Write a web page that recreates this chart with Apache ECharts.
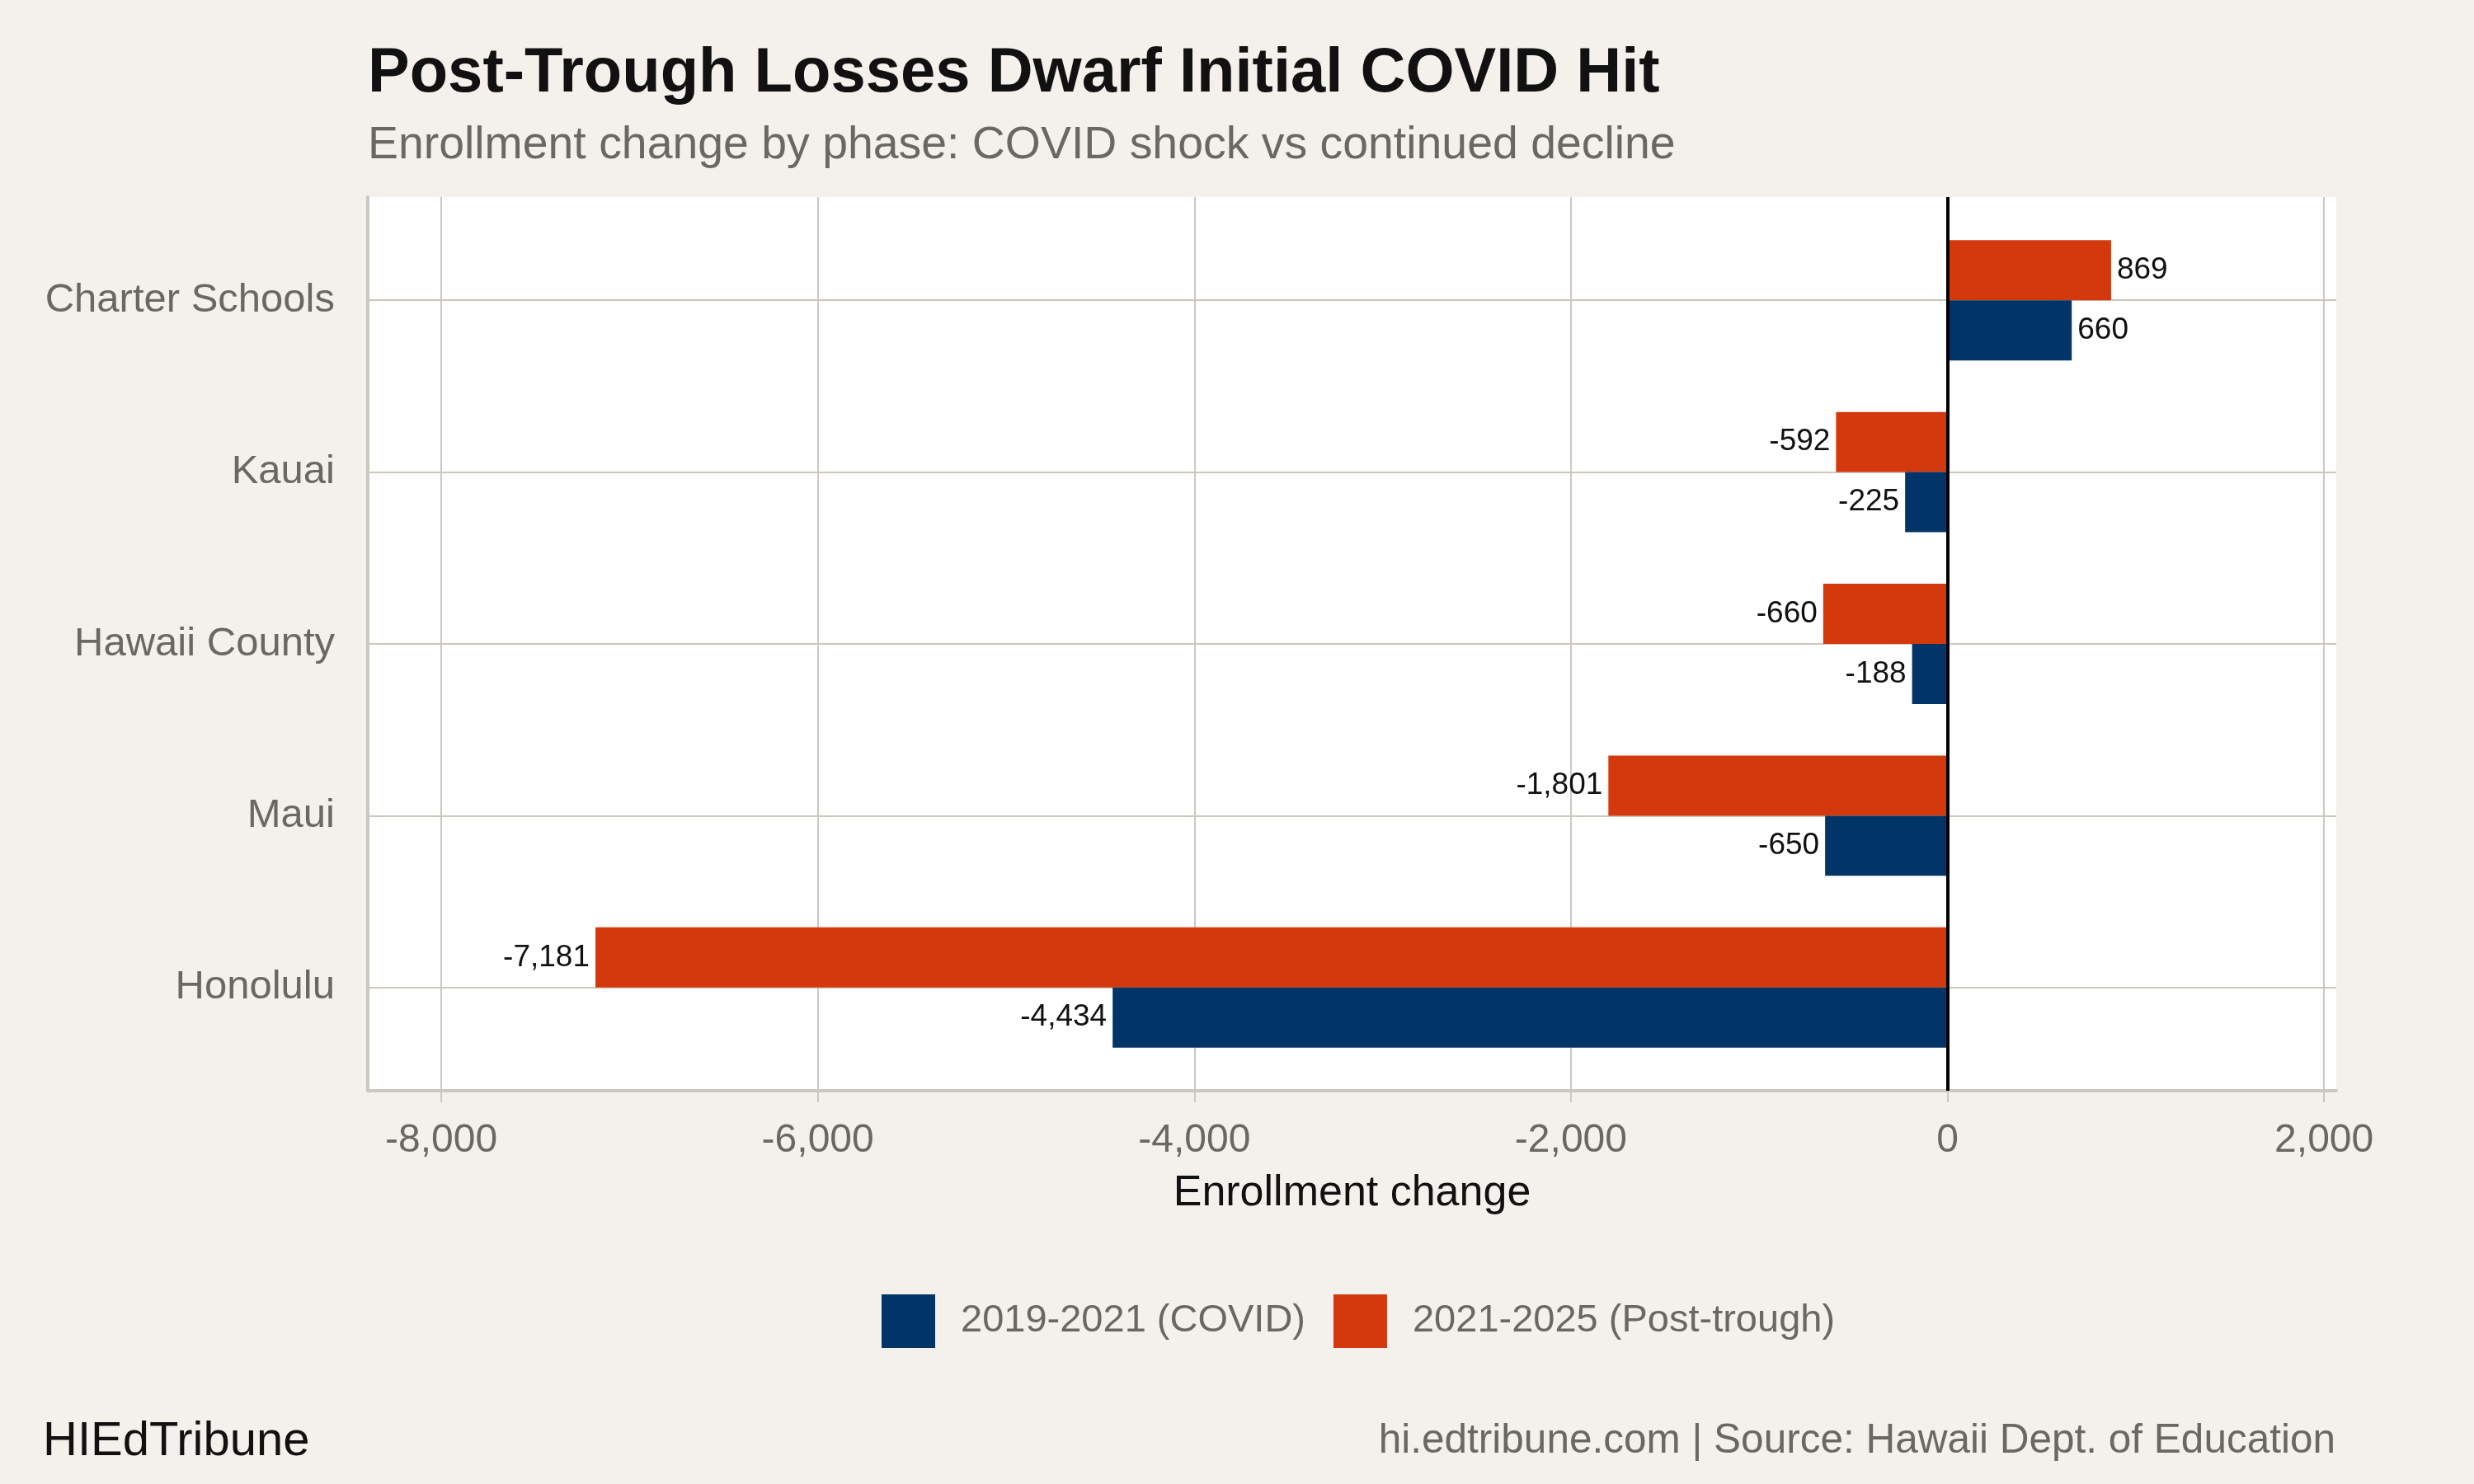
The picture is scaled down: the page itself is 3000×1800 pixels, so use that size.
<!DOCTYPE html>
<html>
<head>
    <meta charset="UTF-8"/>
    <script type="text/javascript" src="https://cdn.jsdelivr.net/npm/echarts@6/dist/echarts.min.js"></script>
    <style>
        html, body { margin: 0; padding: 0; background: #f4f1ec; }
        #main { width: 3000px; height: 1800px; }
    </style>
</head>
<body>
<div id="main"></div>
<script type="text/javascript">
    // categories bottom -> top
    var regions = ['Honolulu', 'Maui', 'Hawaii County', 'Kauai', 'Charter Schools'];
    var covidChange = [-4434, -650, -188, -225, 660];      // 2019-2021
    var postTrough = [-7181, -1801, -660, -592, 869];      // 2021-2025
    var seriesNames = ['2019-2021 (COVID)', '2021-2025 (Post-trough)'];
    var xTicks = [-8000, -6000, -4000, -2000, 0, 2000];

    var FONT = 'Liberation Sans, Arial, Helvetica, sans-serif';
    var GRAY = '#6b6862';
    var LINE = '#cdc8bf';
    var xMin = -8390, xMax = 2065;

    function fmt(v) { return v.toLocaleString('en-US'); }

    // label on the outer end of each bar
    function barData(values) {
        return values.map(function (v) {
            return { value: v, label: { position: v < 0 ? 'left' : 'right' } };
        });
    }

    var barLabel = { show: true, distance: 7, fontFamily: FONT, fontSize: 37, color: '#111111',
                     formatter: function (p) { return fmt(p.value); } };

    var myChart = echarts.init(document.getElementById('main'));

    var option = {
        backgroundColor: '#f4f1ec',
        textStyle: { fontFamily: FONT },
        animation: false,
        title: [
            { text: 'Post-Trough Losses Dwarf Initial COVID Hit', left: 446, top: 52, padding: 0,
              textStyle: { fontFamily: FONT, fontSize: 76, fontWeight: 'bold', color: '#111111' } },
            { text: 'Enrollment change by phase: COVID shock vs continued decline', left: 446, top: 149, padding: 0,
              textStyle: { fontFamily: FONT, fontSize: 55.4, fontWeight: 'normal', color: GRAY } },
            { text: 'HIEdTribune', left: 52, top: 1720, padding: 0,
              textStyle: { fontFamily: FONT, fontSize: 58, fontWeight: 'normal', color: '#111111' } },
            { text: 'hi.edtribune.com | Source: Hawaii Dept. of Education', right: 168, top: 1723, padding: 0,
              textStyle: { fontFamily: FONT, fontSize: 49.5, fontWeight: 'normal', color: GRAY } }
        ],
        legend: {
            data: seriesNames,
            left: 1064, top: 1565,
            icon: 'rect',
            itemWidth: 65, itemHeight: 65, itemGap: 34,
            textStyle: { fontFamily: FONT, fontSize: 47, color: GRAY, padding: [0, 0, 0, 26] }
        },
        grid: [
            // full panel (white) with x axis + gridlines
            { left: 446, right: 167, top: 239, bottom: 477, show: true, backgroundColor: '#ffffff',
              borderWidth: 0, outerBoundsMode: 'none', containLabel: false },
            // inner band area for the category axis + bars
            { left: 446, right: 167, top: 260, bottom: 498, outerBoundsMode: 'none', containLabel: false }
        ],
        xAxis: [
            { type: 'value', gridIndex: 0, min: xMin, max: xMax,
              name: 'Enrollment change', nameLocation: 'middle', nameGap: 99,
              nameTextStyle: { fontFamily: FONT, fontSize: 52, color: '#111111' },
              axisLine: { show: true, onZero: false, lineStyle: { color: LINE, width: 4 } },
              axisTick: { show: true, length: 14, customValues: xTicks, lineStyle: { color: LINE, width: 2 } },
              axisLabel: { customValues: xTicks, margin: 37, fontFamily: FONT, fontSize: 48, color: GRAY,
                           formatter: function (v) { return fmt(v); } },
              splitLine: { show: true, lineStyle: { color: LINE, width: 2 } } },
            { type: 'value', gridIndex: 1, min: xMin, max: xMax, show: false,
              splitLine: { show: false } }
        ],
        yAxis: [
            { type: 'value', gridIndex: 0, min: 0, max: 1, axisLabel: { show: false },
              axisTick: { show: false }, splitLine: { show: false },
              axisLine: { show: true, onZero: false, lineStyle: { color: LINE, width: 4 } } },
            { type: 'category', gridIndex: 1, data: regions,
              axisLine: { show: false },
              axisTick: { show: true, alignWithLabel: true, length: 14, lineStyle: { color: LINE, width: 2 } },
              axisLabel: { margin: 40, fontFamily: FONT, fontSize: 49, color: GRAY },
              splitLine: { show: true, alignWithLabel: true, lineStyle: { color: LINE, width: 2 } } }
        ],
        series: [
            // post-trough listed first so it sits above the COVID bar in each pair
            { name: seriesNames[1], type: 'bar', xAxisIndex: 1, yAxisIndex: 1,
              data: barData(postTrough), barWidth: '35%', barGap: '0%',
              itemStyle: { color: '#d4390e' }, label: barLabel },
            { name: seriesNames[0], type: 'bar', xAxisIndex: 1, yAxisIndex: 1,
              data: barData(covidChange), barWidth: '35%', barGap: '0%',
              itemStyle: { color: '#013467' }, label: barLabel },
            // zero reference line across the whole panel
            { type: 'line', xAxisIndex: 0, yAxisIndex: 0, data: [], z: 10,
              markLine: { silent: true, symbol: 'none', label: { show: false },
                          lineStyle: { color: '#000000', width: 4, type: 'solid' },
                          data: [{ xAxis: 0 }] } }
        ]
    };

    myChart.setOption(option);
</script>
</body>
</html>
